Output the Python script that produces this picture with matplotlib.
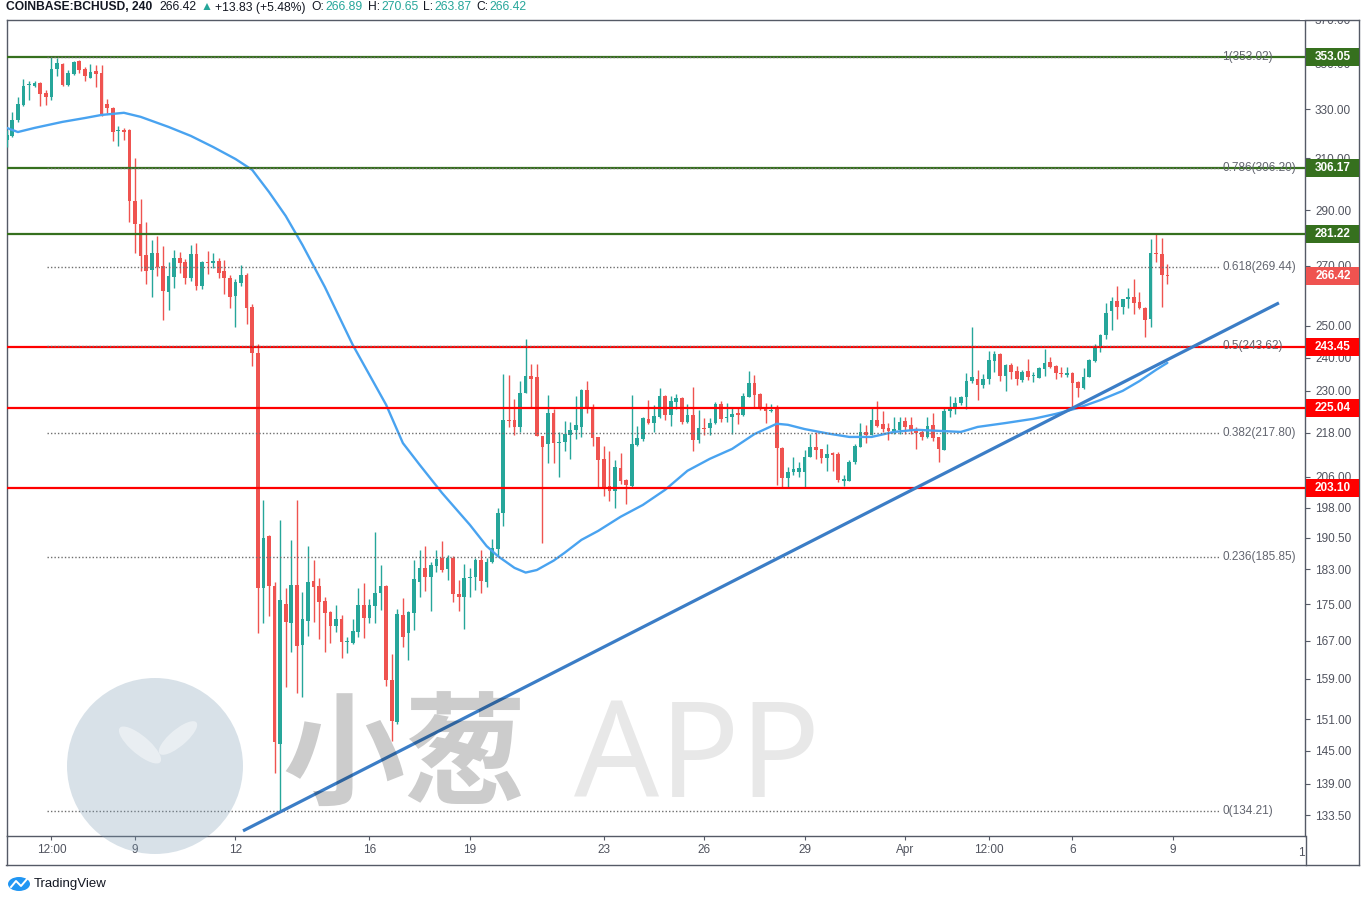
import matplotlib
matplotlib.use("Agg")
import matplotlib.pyplot as plt
from matplotlib.patches import Rectangle, Ellipse
from matplotlib.lines import Line2D
from matplotlib.ticker import FixedLocator, FixedFormatter, NullLocator

plt.rcParams['font.family'] = ['Liberation Sans', 'DejaVu Sans']

# 4h candles, COINBASE:BCHUSD (index 23 = Mar 9 00:00)
opens = [317.3, 318.9, 325.5, 331.9, 340.2, 340.0, 341.4, 337.0, 335.3, 347.5,
         349.7, 340.4, 345.2, 351.1, 347.5, 343.5, 346.6, 345.7, 332.3, 330.6,
         320.9, 321.4, 321.4, 293.4, 284.9, 273.8, 268.6, 274.5, 269.9, 261.1,
         266.2, 272.7, 271.3, 265.8, 274.1, 263.1, 271.3, 271.0, 271.7, 268.2,
         265.8, 259.7, 264.1, 266.9, 256.1, 241.5, 178.7, 191.0, 179.2, 146.3,
         175.0, 170.8, 179.4, 166.1, 171.3, 180.3, 179.2, 175.7, 173.3, 170.2,
         171.7, 166.7, 166.5, 168.9, 174.8, 171.9, 174.6, 177.5, 179.1, 158.8,
         150.5, 172.6, 168.6, 173.0, 180.0, 183.3, 181.2, 183.8, 185.7, 183.1,
         185.7, 177.3, 176.6, 181.0, 181.2, 185.2, 180.0, 184.7, 187.8, 196.7,
         221.6, 221.6, 219.6, 229.4, 234.5, 234.2, 217.1, 214.8, 223.5, 215.1,
         215.4, 217.4, 218.8, 219.6, 230.3, 225.0, 216.8, 210.8, 203.6, 202.3,
         208.3, 205.2, 203.6, 214.6, 216.3, 221.9, 220.7, 222.4, 228.5, 223.0,
         226.8, 228.0, 221.0, 223.0, 216.0, 219.3, 219.3, 220.7, 226.2, 222.2,
         222.4, 223.6, 223.0, 228.2, 232.4, 229.1, 224.7, 224.2, 224.7, 213.7,
         205.7, 207.3, 207.3, 207.3, 211.3, 214.1, 213.5, 211.0, 212.4, 212.1,
         204.9, 204.9, 210.0, 214.1, 218.2, 217.4, 221.6, 220.4, 219.3, 218.5,
         218.8, 221.3, 220.2, 219.0, 218.2, 216.8, 220.2, 216.8, 213.2, 224.2,
         224.7, 226.5, 228.2, 233.0, 233.6, 231.8, 233.6, 239.0, 241.1, 234.5,
         237.8, 236.0, 233.3, 236.0, 234.4, 233.9, 236.6, 238.7, 237.5, 235.4,
         234.8, 235.4, 232.7, 230.9, 234.2, 239.0, 243.0, 247.1, 254.8, 258.1,
         256.1, 258.8, 259.4, 257.8, 255.8, 252.2, 274.5, 274.1, 266.89]
highs = [321.4, 328.9, 335.3, 343.0, 342.2, 342.2, 341.8, 338.3, 353.0, 352.4,
         350.2, 347.0, 351.1, 351.5, 348.4, 349.7, 349.3, 349.3, 334.4, 331.0,
         323.0, 322.2, 321.8, 310.0, 294.1, 285.6, 279.1, 280.5, 276.9, 271.3,
         275.5, 274.8, 272.4, 277.3, 278.0, 271.6, 275.2, 274.5, 272.7, 272.0,
         266.9, 265.5, 270.3, 267.6, 257.0, 244.3, 200.0, 191.2, 180.0, 194.9,
         178.7, 190.0, 200.0, 177.8, 188.6, 185.2, 181.0, 176.6, 173.5, 174.8,
         172.6, 167.8, 171.7, 178.7, 179.8, 176.2, 192.0, 184.0, 179.3, 164.2,
         173.9, 176.4, 173.5, 185.2, 187.6, 188.6, 184.7, 187.6, 189.8, 186.4,
         186.2, 180.5, 184.3, 183.3, 185.7, 187.6, 185.7, 190.2, 198.0, 235.1,
         234.8, 227.6, 233.0, 245.8, 238.1, 238.1, 217.2, 228.8, 224.7, 218.2,
         221.3, 221.0, 228.5, 230.6, 233.0, 226.2, 216.8, 214.4, 212.9, 210.5,
         212.4, 205.4, 228.8, 219.9, 222.4, 227.3, 225.9, 230.9, 228.8, 228.5,
         229.1, 228.2, 226.2, 231.2, 224.5, 222.2, 222.2, 226.8, 227.0, 226.5,
         225.3, 225.0, 229.4, 236.0, 234.8, 229.4, 226.5, 226.2, 225.9, 213.9,
         208.6, 211.3, 210.0, 213.2, 217.7, 218.2, 213.5, 214.9, 212.7, 212.7,
         206.5, 210.5, 214.9, 220.7, 220.2, 225.0, 227.0, 224.2, 220.7, 222.4,
         222.4, 222.4, 222.4, 219.6, 218.8, 222.4, 223.6, 216.8, 225.0, 228.5,
         228.2, 228.5, 235.4, 249.6, 236.3, 235.1, 242.1, 242.1, 241.5, 238.1,
         238.4, 237.5, 236.3, 239.6, 235.7, 237.2, 242.7, 240.2, 237.8, 237.2,
         237.2, 235.6, 233.0, 236.9, 239.5, 244.3, 247.4, 257.4, 259.4, 263.1,
         258.8, 262.5, 265.5, 261.1, 256.1, 279.4, 281.2, 279.8, 270.65]
lows = [314.4, 318.5, 324.7, 331.5, 334.0, 339.6, 331.5, 331.9, 334.0, 344.3,
        340.0, 340.0, 345.0, 345.7, 342.2, 343.3, 339.6, 327.2, 328.4, 316.9,
        314.9, 317.3, 285.6, 274.5, 268.2, 263.8, 259.4, 266.5, 251.9, 255.1,
        262.5, 267.6, 263.8, 264.8, 261.8, 262.1, 267.2, 269.3, 265.8, 260.4,
        255.8, 249.6, 263.1, 250.6, 237.5, 168.6, 170.8, 172.4, 141.0, 134.21,
        157.4, 164.6, 156.2, 155.4, 168.0, 171.1, 167.4, 164.6, 166.5, 168.8,
        163.3, 164.4, 166.3, 167.8, 167.6, 170.8, 170.8, 173.7, 157.6, 146.8,
        150.1, 165.7, 162.9, 169.3, 176.6, 178.0, 173.5, 182.4, 182.4, 180.5,
        175.5, 173.5, 169.5, 176.6, 178.2, 177.5, 178.9, 184.5, 185.9, 193.5,
        219.6, 217.4, 218.2, 229.4, 225.0, 217.0, 189.3, 209.7, 209.7, 206.0,
        213.0, 210.8, 216.3, 216.8, 223.6, 214.4, 203.4, 201.0, 199.7, 198.0,
        204.1, 199.0, 203.4, 214.4, 215.7, 220.4, 218.2, 222.2, 221.6, 219.9,
        224.7, 220.4, 220.7, 212.9, 215.2, 217.4, 217.4, 220.4, 221.0, 221.0,
        217.7, 220.4, 222.7, 228.2, 225.0, 224.5, 220.7, 223.9, 203.9, 203.1,
        203.4, 206.5, 206.0, 203.1, 211.3, 210.8, 209.7, 207.6, 207.6, 204.7,
        203.6, 204.9, 209.4, 214.1, 215.2, 217.4, 219.6, 218.2, 216.0, 217.7,
        217.7, 217.7, 217.7, 213.5, 216.0, 216.5, 215.7, 210.0, 213.2, 222.4,
        223.3, 225.9, 224.7, 232.4, 227.3, 230.9, 232.1, 235.7, 233.0, 230.0,
        233.6, 231.8, 232.7, 233.3, 232.7, 233.9, 234.5, 236.9, 233.6, 234.2,
        234.2, 224.7, 228.2, 230.6, 234.0, 238.7, 241.8, 245.8, 248.7, 252.2,
        253.8, 255.8, 253.8, 255.4, 246.5, 249.6, 271.3, 256.1, 263.87]
closes = [319.3, 325.5, 332.3, 340.0, 340.6, 341.4, 336.6, 335.3, 347.5, 350.2,
          340.4, 345.7, 350.6, 347.0, 344.3, 346.1, 345.2, 327.6, 330.6, 320.6,
          321.4, 320.6, 293.4, 284.9, 273.4, 268.2, 274.5, 269.6, 261.4, 266.5,
          272.7, 271.0, 265.8, 274.1, 263.1, 271.3, 271.0, 271.7, 267.6, 265.8,
          259.4, 264.5, 266.9, 255.8, 241.5, 178.7, 190.5, 179.2, 146.6, 175.9,
          171.1, 179.4, 165.9, 171.7, 180.0, 178.9, 175.5, 173.0, 170.2, 171.7,
          166.7, 167.0, 169.1, 174.8, 171.9, 174.8, 177.5, 179.1, 158.8, 150.7,
          172.8, 167.8, 173.3, 180.7, 183.3, 181.2, 184.0, 185.4, 182.8, 185.7,
          177.3, 176.6, 181.0, 181.2, 185.2, 180.3, 184.7, 188.1, 196.7, 221.6,
          221.3, 219.6, 229.4, 234.5, 233.6, 217.1, 213.9, 223.5, 215.1, 215.4,
          217.7, 218.8, 220.2, 230.3, 224.7, 216.5, 210.5, 203.4, 202.3, 208.6,
          204.9, 203.9, 214.9, 216.5, 222.2, 220.7, 222.7, 228.5, 223.0, 227.0,
          228.0, 221.0, 223.0, 216.0, 219.3, 219.0, 220.7, 226.2, 221.9, 222.4,
          223.3, 223.0, 228.5, 232.4, 228.8, 224.7, 224.2, 224.5, 213.7, 205.7,
          207.3, 208.1, 208.3, 211.3, 214.1, 213.2, 211.0, 212.1, 211.8, 205.2,
          205.4, 210.0, 214.4, 218.2, 217.4, 221.6, 219.9, 219.0, 218.5, 219.0,
          221.0, 219.6, 218.5, 218.0, 216.8, 219.9, 216.5, 213.5, 224.2, 224.7,
          226.5, 228.2, 233.0, 234.2, 231.8, 233.6, 239.3, 241.1, 234.5, 237.8,
          235.7, 233.6, 235.7, 234.2, 234.6, 236.9, 238.4, 237.2, 235.4, 235.1,
          235.4, 232.4, 230.9, 234.2, 239.3, 243.3, 247.1, 254.2, 258.1, 256.1,
          258.8, 259.4, 257.4, 255.8, 251.9, 274.5, 274.1, 266.9, 266.42]

# moving average (candle index, price)
ma_idx = [0, 2, 5, 10, 14, 17, 21, 24, 29, 33, 37, 41, 44, 47, 50, 53, 57, 62, 68,
          71, 74, 78, 83, 86, 88, 91, 93, 95, 98, 100, 103, 106, 110, 114, 118, 122,
          126, 130, 134, 138, 140, 143, 147, 151, 155, 159, 163, 167, 171, 174, 179,
          184, 188, 192, 196, 200, 203, 206, 208]
ma_val = [322.2, 320.5, 322.2, 324.7, 326.3, 327.6, 328.5, 326.8, 322.6, 318.9,
          314.4, 309.6, 305.3, 296.8, 287.8, 277.3, 262.8, 244.0, 225.9, 215.1,
          209.2, 201.8, 193.7, 188.5, 186.1, 183.3, 182.2, 182.8, 185.0, 186.9,
          190.0, 192.2, 195.7, 198.7, 202.6, 207.6, 210.8, 213.5, 217.6, 220.5,
          220.2, 219.0, 217.8, 216.8, 216.8, 218.2, 218.8, 218.5, 218.2, 219.6,
          220.7, 221.9, 223.3, 225.0, 227.3, 230.0, 232.9, 236.3, 238.4]

# drawn trendline anchors (candle index, price)
trend_x = [42.35, 228.0]
trend_y = [130.84, 257.45]

# fibonacci retracement
fib_ratios = ['0', '0.236', '0.382', '0.5', '0.618', '0.786', '1']
fib_prices = [134.21, 185.85, 217.80, 243.62, 269.44, 306.20, 353.02]

green_levels = [353.05, 306.17, 281.22]
red_levels = [243.45, 225.04, 203.10]
last_price = 266.42

y_ticks = [133.5, 139, 145, 151, 159, 167, 175, 183, 190.5, 198, 206, 218, 230,
           240, 250, 270, 290, 310, 330, 350, 370]
x_tick_pos = [8, 23, 41, 65, 83, 107, 125, 143, 161, 176, 191, 209]
x_tick_lab = ['12:00', '9', '12', '16', '19', '23', '26', '29', 'Apr', '12:00', '6', '9']

W, H = 1365, 902
UP, DOWN = '#26a69a', '#ef5350'
LEVEL_GREEN, LEVEL_RED = '#36701e', '#ff0000'
AXIS_C = '#555a66'
TEXT_C = '#50535e'


def fx(x):
    return x / W


def fy(y):
    return 1 - y / H


fig = plt.figure(figsize=(W / 100, H / 100), dpi=100)
ax = fig.add_axes([fx(7), fy(836), (1305 - 7) / W, (836 - 20) / H])
ax.set_yscale('log')
ax.set_xlim(0.05, 232.67)
ax.set_ylim(129.98, 370)

# candles
xs = list(range(len(opens)))
cols = [UP if c >= o else DOWN for o, c in zip(opens, closes)]
ax.vlines(xs, lows, highs, colors=cols, lw=1.0, zorder=3)
bot = [min(o, c) for o, c in zip(opens, closes)]
top = [max(max(o, c), min(o, c) * 1.0014) for o, c in zip(opens, closes)]
ax.bar(xs, [t - b for t, b in zip(top, bot)], bottom=bot, width=0.66,
       color=cols, lw=0, zorder=3.1)

# MA
ax.plot(ma_idx, ma_val, color='#49a3f0', lw=1.7, zorder=3.6, solid_capstyle='round')

# horizontal levels
for p in green_levels:
    ax.axhline(p, color=LEVEL_GREEN, lw=1.6, zorder=4)
for p in red_levels:
    ax.axhline(p, color=LEVEL_RED, lw=1.6, zorder=4)

# fibonacci
for r, p in zip(fib_ratios, fib_prices):
    ax.plot([7.22, 217.3], [p, p], color='#6e6e6e', lw=1.0, ls=(0, (1, 1.5)), zorder=4.5)
    ax.text(217.8, p, f'{r}({p:.2f})', fontsize=8.5, color='#62656f',
            va='center', ha='left', zorder=4.6)

# trendline
ax.plot(trend_x, trend_y, color='#3b7dc6', lw=2.3, zorder=5, solid_capstyle='butt')

# axes styling
ax.yaxis.set_major_locator(FixedLocator(y_ticks))
ax.yaxis.set_major_formatter(FixedFormatter([f'{v:.2f}' for v in y_ticks]))
ax.yaxis.set_minor_locator(NullLocator())
ax.yaxis.tick_right()
ax.tick_params(axis='y', which='major', direction='out', length=3.6, width=0.8,
               pad=3.6, labelsize=8.5, color=AXIS_C, labelcolor=TEXT_C)
ax.xaxis.set_major_locator(FixedLocator(x_tick_pos))
ax.xaxis.set_major_formatter(FixedFormatter(x_tick_lab))
ax.tick_params(axis='x', direction='out', length=3, width=0.8, pad=3,
               labelsize=8.5, color=AXIS_C, labelcolor=TEXT_C)
for s in ax.spines.values():
    s.set_color(AXIS_C)
    s.set_linewidth(1.0)
ax.text(232.6, -0.013, '1', transform=ax.get_xaxis_transform(), ha='right',
        va='top', fontsize=8.5, color=TEXT_C)

# hide the part of the top tick label above the pane
fig.add_artist(Rectangle((fx(1300), fy(19.5)), fx(65), 19.5 / H, transform=fig.transFigure,
                         fc='white', ec='none', zorder=3))

# outer frame lines
frame = [((5.5, 865), (1358.5, 865)), ((1358.5, 20), (1358.5, 865)),
         ((6.5, 836), (6.5, 865)), ((1305, 20), (1358.5, 20)),
         ((1305.5, 836), (1305.5, 865))]
for (x0, y0), (x1, y1) in frame:
    fig.add_artist(Line2D([fx(x0), fx(x1)], [fy(y0), fy(y1)], color=AXIS_C, lw=1.0,
                          transform=fig.transFigure, zorder=4))

# price boxes on the scale
fig.canvas.draw()
boxes = [(p, LEVEL_GREEN) for p in green_levels] + [(p, LEVEL_RED) for p in red_levels] \
    + [(last_price, DOWN)]
for p, c in boxes:
    yd = ax.transData.transform((1, p))[1]
    fig.add_artist(Rectangle((fx(1306), (yd - 9) / H), fx(53), 18 / H,
                             transform=fig.transFigure, fc=c, ec='none', zorder=5))
    fig.text(fx(1333), yd / H, f'{p:.2f}', color='white', fontsize=8.5,
             fontweight='bold', ha='center', va='center', zorder=6)

# header legend
renderer = fig.canvas.get_renderer()
parts = [('COINBASE:BCHUSD, 240', '#131722', 'bold', 7),
         ('266.42', '#131722', 'normal', 4),
         ('\u25B2', UP, 'normal', 3),
         ('+13.83 (+5.48%)', '#131722', 'normal', 6),
         ('O:', '#131722', 'normal', 1), ('266.89', UP, 'normal', 5),
         ('H:', '#131722', 'normal', 1), ('270.65', UP, 'normal', 5),
         ('L:', '#131722', 'normal', 1), ('263.87', UP, 'normal', 5),
         ('C:', '#131722', 'normal', 1), ('266.42', UP, 'normal', 5)]
xpos = 6
for s, c, w, gap in parts:
    t = fig.text(fx(xpos), fy(7.5), s, color=c, fontweight=w, fontsize=8.7,
                 ha='left', va='center', family=['Liberation Sans', 'DejaVu Sans'])
    xpos += t.get_window_extent(renderer=renderer).width + gap

# TradingView footer
fig.add_artist(Ellipse((fx(19), fy(884)), fx(22), 14 / H, transform=fig.transFigure,
                       fc='#2196f3', ec='none', zorder=5))
fig.add_artist(Line2D([fx(11), fx(16), fx(21), fx(27)], [fy(887), fy(881), fy(886), fy(879)],
                      color='white', lw=1.4, transform=fig.transFigure, zorder=6))
fig.text(fx(34), fy(884), 'TradingView', fontsize=9.5, color='#131722',
         ha='left', va='center')

# watermark
fig.add_artist(Ellipse((fx(155), fy(766)), 176 / W, 176 / H, transform=fig.transFigure,
                       fc='#7f9db5', ec='none', alpha=0.3, zorder=8))
fig.add_artist(Ellipse((fx(140), fy(745)), 22 / W, 44 / H, angle=35,
                       transform=fig.transFigure, fc='white', ec='none', alpha=0.45, zorder=8.5))
fig.add_artist(Ellipse((fx(178), fy(738)), 20 / W, 40 / H, angle=-35,
                       transform=fig.transFigure, fc='white', ec='none', alpha=0.45, zorder=8.5))
fig.text(fx(405), fy(760), '小葱', fontsize=88, fontweight='bold', color='black',
         alpha=0.2, ha='center', va='center', zorder=9,
         family=['Noto Sans CJK SC', 'DejaVu Sans'])
fig.text(fx(697), fy(762), 'APP', fontsize=96, color='black', alpha=0.09,
         ha='center', va='center', zorder=9, family=['Noto Sans', 'DejaVu Sans'])

fig.savefig('out.png', dpi=100)
